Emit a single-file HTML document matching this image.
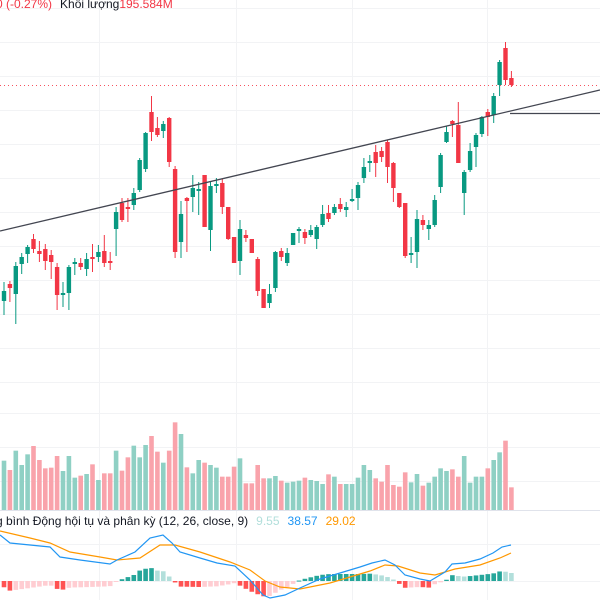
<!DOCTYPE html>
<html><head><meta charset="utf-8"><style>
html,body{margin:0;padding:0;background:#fff;width:600px;height:600px;overflow:hidden}
svg{position:absolute;left:0;top:0}
.t{font-family:"Liberation Sans","DejaVu Sans",sans-serif;font-size:12px}
</style></head><body>
<svg id="s" width="600" height="600" xmlns="http://www.w3.org/2000/svg">
<g stroke="#f2f3f5" stroke-width="1">
<line x1="0" y1="8.5" x2="600" y2="8.5"/><line x1="0" y1="42.5" x2="600" y2="42.5"/><line x1="0" y1="76.5" x2="600" y2="76.5"/>
<line x1="0" y1="110.5" x2="600" y2="110.5"/><line x1="0" y1="144.5" x2="600" y2="144.5"/><line x1="0" y1="178.5" x2="600" y2="178.5"/>
<line x1="0" y1="212.5" x2="600" y2="212.5"/><line x1="0" y1="246.5" x2="600" y2="246.5"/><line x1="0" y1="280.5" x2="600" y2="280.5"/>
<line x1="0" y1="314.5" x2="600" y2="314.5"/><line x1="0" y1="348.5" x2="600" y2="348.5"/><line x1="0" y1="382.5" x2="600" y2="382.5"/>
<line x1="0" y1="413.5" x2="600" y2="413.5"/><line x1="0" y1="447.5" x2="600" y2="447.5"/><line x1="0" y1="481.5" x2="600" y2="481.5"/>
<line x1="0" y1="544.5" x2="600" y2="544.5"/><line x1="0" y1="581.5" x2="600" y2="581.5"/>
<line x1="99.5" y1="0" x2="99.5" y2="600"/><line x1="236.5" y1="0" x2="236.5" y2="600"/><line x1="352.5" y1="0" x2="352.5" y2="600"/><line x1="487.5" y1="0" x2="487.5" y2="600"/>
</g>
<line x1="0" y1="510.5" x2="600" y2="510.5" stroke="#e0e3eb"/>
<line x1="0" y1="85.5" x2="600" y2="85.5" stroke="#f7525f" stroke-width="1" stroke-dasharray="1,3"/>
<g id="vol"></g><g id="hist"></g><g id="c"></g>
<line x1="0" y1="231" x2="600" y2="90" stroke="#434651" stroke-width="1.3"/>
<line x1="510" y1="113.5" x2="600" y2="113.5" stroke="#434651" stroke-width="1.3"/>
<polyline fill="none" stroke="#ff9800" stroke-width="1.2" points="0,531 30,538 50,543 70,552 100,557 117,560 140,558 160,545 175,545 200,552 230,562 250,570 265,581 280,587 300,589 330,583 350,577 370,571 385,565 398,566 420,573 435,575 455,569 480,565 500,558 511,553"/>
<polyline fill="none" stroke="#2196f3" stroke-width="1.2" points="0,535 10,543 50,547 60,557 80,560 110,564 117,560 135,552 150,538 163,535 172,543 180,552 200,558 217,563 235,566 250,580 263,595 270,598 285,595 300,588 320,579 340,573 360,567 372,563 385,560 395,565 405,575 420,579 430,581 445,572 452,564 465,563 480,559 493,553 502,547 511,545"/>
<text class="t" x="-4" y="8"><tspan fill="#f23645">0 (-0.27%)</tspan><tspan fill="#131722" dx="8">Khối lượng</tspan><tspan fill="#f23645">195.584M</tspan></text>
<text class="t" x="-4" y="525" fill="#131722">g bình Động hội tụ và phân kỳ (12, 26, close, 9)<tspan fill="#b2dfdb" dx="8">9.55</tspan><tspan fill="#2196f3" dx="8">38.57</tspan><tspan fill="#ff9800" dx="8">29.02</tspan></text>
</svg>
<script>
var C=[['g',291,301,282,315],['r',284,288,281,302],['g',266,294,262,324],['g',257,264,253,274],['g',247,254,245,263],['r',239,249,234,253],['r',251,254,241,262],['r',249,261,244,270],['r',255,262,250,279],['r',267,295,263,310],
['g',293,295,282,307],['g',267,293,265,310],['g',262,264,258,275],['r',263,267,258,270],['g',259,269,253,276],['r',257,259,244,272],['g',252,257,245,262],['r',251,263,235,267],['r',261,263,252,270],['g',212,229,207,256],
['r',203,220,198,222],['r',207,209,198,222],['g',193,205,188,210],['g',160,190,158,192],['g',133,169,132,172],['r',112,132,96,141],['r',128,135,117,137],['g',124,131,121,138],['r',118,162,117,167],['r',169,252,166,258],
['g',214,242,201,258],['r',198,201,197,252],['g',188,197,175,212],['g',189,191,182,215],['r',175,227,175,227],['g',186,230,182,251],['g',184,186,178,193],['r',183,207,179,214],['r',207,239,207,240],['r',237,263,237,263],
['g',229,261,220,275],['r',235,238,230,242],['r',239,253,239,253],['r',259,291,257,296],['r',289,308,289,308],['g',294,303,284,308],['g',252,288,251,292],['r',251,257,248,261],['g',253,263,248,266],['g',233,245,233,245],
['g',229,231,227,243],['r',232,238,229,244],['g',230,235,225,237],['g',227,239,225,249],['g',214,225,205,227],['r',213,219,205,222],['g',207,213,204,215],['r',204,209,198,212],['g',207,210,202,217],['g',199,201,189,202],
['g',185,198,182,210],['g',167,178,158,183],['g',161,163,155,172],['r',152,163,145,177],['r',151,157,147,162],['r',142,167,140,183],['r',163,188,162,202],['r',193,207,193,208],['r',203,256,203,258],['g',253,255,237,263],
['g',219,252,210,268],['r',220,225,215,230],['g',225,229,220,240],['g',200,225,195,227],['g',155,187,153,193],['g',132,142,126,143],['r',121,124,120,137],['r',125,163,102,163],['g',172,193,170,215],['g',151,170,143,172],
['g',135,147,133,167],['g',117,134,116,137],['r',112,117,109,136],['g',96,115,93,123],['g',62,85,60,96],['r',48,80,42,85],['r',78,85,71,87]];
var V=[152,180,122,165,133,108,150,175,173,138,183,138,203,197,192,163,210,190,190,122,182,142,107,142,105,78,125,158,122,37,72,172,190,150,158,165,173,200,200,170,145,220,220,165,205,205,198,212,218,215,212,
203,210,213,222,193,200,222,222,222,203,165,180,205,215,165,225,230,187,217,192,227,218,200,175,183,178,200,138,218,200,200,175,150,127,92,232];
var NS="http://www.w3.org/2000/svg";
function el(p,t,a){var e=document.createElementNS(NS,t);for(var k in a)e.setAttribute(k,a[k]);p.appendChild(e);return e;}
var cg=document.getElementById('c'),vg=document.getElementById('vol'),hg=document.getElementById('hist');
C.forEach(function(d,i){var x=4+5.9*i;var col=d[0]=='g'?'#089981':'#f23645';
el(cg,'line',{x1:x,x2:x,y1:d[3],y2:d[4],stroke:col,'stroke-width':1});
el(cg,'rect',{x:x-2.2,y:d[1],width:4.4,height:Math.max(1,d[2]-d[1]),fill:col});
var vt=410+V[i]/3;el(vg,'rect',{x:x-2.3,y:vt,width:4.6,height:510-vt,fill:d[0]=='g'?'#8fd0c4':'#f9a3ab'});});
function pts(id){return document.querySelectorAll('polyline')[id].getAttribute('points').trim().split(' ').map(function(p){return p.split(',').map(Number);});}
function interp(P,x){for(var i=0;i<P.length-1;i++){if(x>=P[i][0]&&x<=P[i+1][0]){var t=(x-P[i][0])/(P[i+1][0]-P[i][0]);return P[i][1]+t*(P[i+1][1]-P[i][1]);}}return P[P.length-1][1];}
var O=pts(0),B=pts(1),prev=0;
for(var i=0;i<C.length;i++){var x=4+5.9*i;var h=(interp(O,x)-interp(B,x))*1.0;var col;
if(h>=0)col=h>=prev?'#26a69a':'#b2dfdb';else col=h<prev?'#ff5252':'#ffcdd2';prev=h;
var y=h>=0?581-h:581;el(hg,'rect',{x:x-2.3,y:y,width:4.6,height:Math.max(1,Math.abs(h)),fill:col});}
</script>
</body></html>
